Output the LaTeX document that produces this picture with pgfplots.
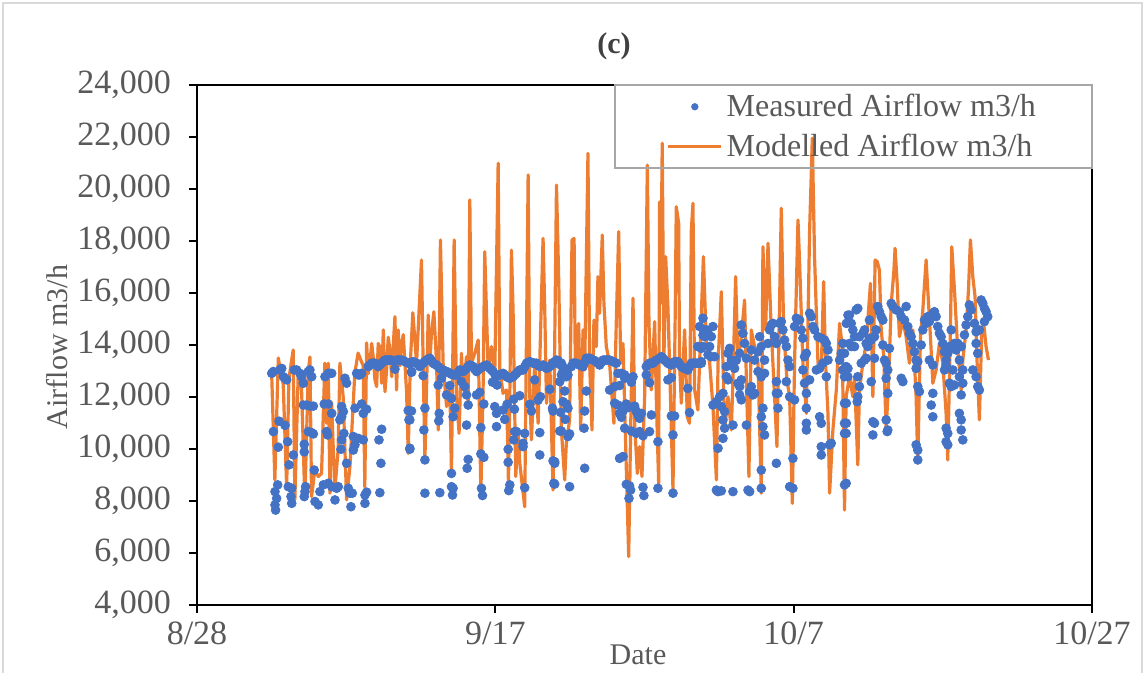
\documentclass[border=0pt]{standalone}
\usepackage{pgfplots}
\usepackage{pgfplotstable}
\pgfplotsset{compat=1.18}
\usepackage{fontspec}
\setmainfont{Liberation Serif}

\definecolor{meas}{HTML}{4472C4}
\definecolor{model}{HTML}{ED7D31}
\definecolor{txt}{HTML}{595959}
\definecolor{titletxt}{HTML}{404040}
\definecolor{outerframe}{HTML}{D9D9D9}
\definecolor{legframe}{HTML}{A6A6A6}

% day = days after 8/28, value in m3/h
\pgfplotstableread{
day value
5.00 13000
5.22 8810
5.45 13500
5.63 12900
5.78 12500
6.01 8540
6.16 12700
6.45 13810
6.56 8040
6.79 13000
7.01 12300
7.23 8040
7.46 13000
7.57 13540
7.68 8170
7.90 9190
8.13 8940
8.35 9060
8.57 13300
8.69 10990
8.80 13300
8.91 8300
9.02 11800
9.24 8420
9.46 9960
9.58 13300
9.80 12000
10.03 8040
10.25 9300
10.58 12920
10.80 13690
11.14 13200
11.25 8540
11.37 14080
11.48 12900
11.59 13300
11.71 14060
11.82 13500
11.93 12660
12.04 12400
12.15 14060
12.27 13900
12.38 12530
12.49 14580
12.60 12200
12.71 13040
12.82 14300
12.93 13810
13.05 12780
13.16 14000
13.27 15090
13.38 12270
13.49 14580
13.60 13200
13.72 14060
13.83 14400
13.94 13300
14.05 12200
14.16 9830
14.30 13300
14.47 15240
14.72 13300
15.05 17270
15.16 13300
15.28 9580
15.50 15150
15.61 13300
15.72 14450
15.88 15280
16.06 13300
16.17 10730
16.32 18040
16.50 13300
16.73 11630
16.95 12530
17.06 9060
17.24 18040
17.40 12010
17.57 10600
17.73 13680
17.84 12270
18.07 13550
18.18 11760
18.29 19580
18.40 13300
18.62 13680
18.85 14190
19.03 8300
19.18 12270
19.29 17590
19.52 13040
19.74 13940
19.96 12780
20.19 20990
20.30 13040
20.52 12140
20.75 12270
20.88 8680
20.97 12010
21.08 17650
21.19 15350
21.37 8940
21.53 10730
21.64 9450
21.97 7780
22.20 20540
22.31 12010
22.42 10350
22.64 13300
22.87 10990
23.20 18100
23.31 15480
23.43 11760
23.65 13420
23.87 8420
24.10 20150
24.25 16500
24.43 10730
24.65 8810
24.76 10220
24.98 11120
25.14 18040
25.28 18100
25.36 13300
25.59 14830
25.72 10730
25.88 14580
25.99 13040
26.21 21370
26.32 13300
26.48 10730
26.61 14960
26.77 13940
26.88 16630
26.99 15220
27.17 18230
27.28 15600
27.44 13940
27.66 13300
27.95 10990
28.11 14900
28.27 18360
28.40 13300
28.56 14060
28.67 11630
28.94 5860
29.07 10730
29.23 15800
29.34 10990
29.52 9060
29.67 10090
29.83 8940
30.01 12010
30.19 20920
30.30 14830
30.46 12270
30.68 14900
30.80 11760
30.95 8680
31.01 19500
31.08 15600
31.19 21760
31.30 13300
31.42 17400
31.57 15480
31.68 13300
31.91 8420
32.06 15220
32.13 19320
32.29 18680
32.35 13300
32.47 11760
32.69 14580
32.87 11240
33.02 10990
33.14 18420
33.25 19450
33.36 12270
33.58 11500
33.95 17400
34.15 13940
34.37 13300
34.59 11630
34.82 8810
34.93 13300
35.15 16050
35.26 13300
35.37 10730
35.60 12010
35.82 10730
35.93 12660
36.11 16630
36.27 13300
36.49 14320
36.71 15730
36.83 12660
37.00 8940
37.16 14580
37.38 13940
37.61 13300
37.83 8300
37.94 17780
38.12 14580
38.28 17910
38.50 14580
38.72 12010
38.88 10090
39.17 19260
39.33 14580
39.55 12660
39.73 12010
39.91 7910
40.06 13300
40.29 18810
40.40 17140
40.62 13300
40.85 11370
41.07 18420
41.25 21950
41.40 17400
41.63 13300
41.85 13040
42.01 16440
42.14 13300
42.30 11370
42.41 8300
42.63 10730
42.86 12270
43.08 14830
43.26 13940
43.41 7650
43.52 12010
43.74 12780
43.97 12010
44.08 12780
44.30 9390
44.41 12270
44.64 13300
44.86 14060
45.15 16370
45.31 12010
45.46 17270
45.60 17210
45.75 16880
45.87 14580
46.04 13550
46.20 10730
46.36 12530
46.54 15600
46.71 16760
46.80 17720
46.94 16370
47.09 14320
47.32 14960
47.54 14320
47.76 13300
47.99 14580
48.21 12010
48.32 9450
48.50 14320
48.66 15350
48.88 17270
48.99 16120
49.17 14320
49.33 12530
49.55 13040
49.77 14060
50.00 13300
50.22 11370
50.33 9580
50.51 14580
50.60 17780
50.78 16120
51.00 13810
51.23 12270
51.34 13420
51.56 14580
51.72 16120
51.85 18040
52.01 16630
52.16 15860
52.30 13300
52.45 11120
52.61 14580
52.74 14830
52.90 13940
53.06 13420
}\modelled

\pgfplotstableread{
day value
5.01 12910
5.12 12980
5.56 13040
5.68 13100
5.79 12780
5.90 12720
6.01 12660
6.52 13040
6.68 13040
6.90 12910
7.02 12780
7.13 12530
7.46 12980
7.57 13040
7.69 12780
8.58 12780
8.80 12910
8.91 12910
9.03 12910
9.92 12720
10.03 12530
10.70 12910
10.81 12850
10.92 12850
11.04 12910
11.48 13170
11.59 13230
11.71 13300
11.82 13300
11.93 13300
12.04 13240
12.15 13170
12.26 13240
12.38 13300
12.49 13360
12.60 13420
12.71 13420
12.82 13420
12.93 13420
13.05 13420
13.16 13400
13.27 13070
13.38 13420
13.49 13420
13.60 13420
13.72 13420
13.83 13400
13.94 13360
14.05 13330
14.16 13300
14.27 13300
14.39 12980
7.13 11690
7.35 11690
7.57 11650
7.80 11650
8.53 11730
8.80 11730
9.03 11370
9.70 11630
9.81 11440
9.70 11240
9.58 11120
10.59 11570
11.04 11730
11.15 11370
11.37 11530
14.16 11480
14.21 11120
5.50 11070
5.90 10910
5.12 10670
7.46 10670
7.69 10630
7.80 10580
8.69 10670
8.76 10540
9.85 10600
9.70 10350
10.48 10480
10.81 10410
11.15 10350
12.20 10350
12.38 10760
5.45 10070
6.08 10280
7.19 10180
7.19 9890
10.48 9960
10.59 10160
9.65 9990
14.27 9990
6.17 9390
6.46 9770
7.86 9190
10.03 9450
12.33 9450
5.41 8620
5.23 8360
5.34 8100
5.23 7850
5.27 7650
6.12 8550
6.35 8490
6.30 8170
6.35 7910
7.28 8550
7.24 8360
7.19 8170
7.91 7980
8.13 7850
8.24 8360
8.47 8620
8.80 8680
9.03 8550
9.36 8490
9.47 8550
9.25 8040
10.14 8490
10.25 8300
10.41 8300
10.32 7780
11.26 8230
11.26 7910
11.37 8340
12.26 8320
14.38 13330
14.49 13360
14.72 13300
14.83 13250
14.94 13170
15.05 13240
15.16 13300
15.27 13360
15.39 13420
15.50 13460
15.61 13490
15.72 13400
15.83 13300
15.94 13260
16.06 13230
16.17 13170
16.28 13100
16.39 13060
16.50 13040
16.62 13000
16.73 12980
16.84 12950
16.95 12910
17.06 12880
17.17 12850
17.28 12850
17.40 12850
17.51 12950
17.62 13040
17.73 13010
17.84 12980
17.95 13040
18.07 13100
18.18 13170
18.29 13230
18.40 13200
18.51 13170
18.62 13070
18.74 12980
18.85 13040
18.96 13100
19.07 13130
19.18 13170
19.29 13200
19.41 13230
19.52 13170
19.63 13100
19.74 13040
19.85 12980
19.96 12880
20.08 12780
20.19 12820
20.30 12850
20.41 12880
20.52 12910
20.63 12850
20.75 12780
20.86 12750
20.97 12720
21.08 12750
21.19 12780
21.31 12850
21.42 12910
21.53 12980
21.64 13040
21.75 13040
21.86 13040
21.97 13170
22.09 13300
22.20 13330
22.31 13360
22.42 13330
22.53 13300
22.64 13300
22.76 13300
22.87 13230
22.98 13170
23.09 13200
23.20 13230
23.31 13170
23.43 13100
23.54 13130
23.65 13170
23.76 13230
23.87 13300
23.98 13360
24.10 13420
24.21 13400
14.38 12950
15.16 12820
16.17 12460
16.39 12720
16.95 12440
16.73 12080
17.06 11950
17.28 11570
17.17 11240
17.73 12590
17.95 12400
18.07 12080
18.18 11690
18.07 10920
18.74 12080
18.96 12180
19.23 11730
19.81 12570
20.12 12460
19.96 11630
20.08 11370
20.52 11500
20.63 11140
20.79 11720
21.24 11920
21.64 12050
21.28 11530
22.31 11720
22.42 11460
22.64 12660
22.87 11880
23.02 12010
23.65 12300
23.83 11570
23.87 11460
14.38 11460
14.27 11120
15.28 11570
16.24 11370
16.21 11080
15.21 10730
20.08 10860
19.03 10820
21.30 10670
21.42 10670
21.24 10350
21.86 10220
21.97 10600
21.86 10090
22.98 10630
24.32 10690
14.27 10030
15.28 9580
17.06 9060
18.18 9600
18.11 9260
19.03 9810
19.23 9680
20.86 9990
20.86 9490
22.98 9770
23.87 9540
23.98 9450
15.28 8300
16.28 8320
17.06 8550
17.13 8230
17.17 8490
19.07 8490
19.14 8210
20.97 8620
20.90 8400
21.97 8510
23.92 8680
24.20 13300
24.32 13250
24.43 13300
24.54 13150
24.65 13040
24.76 12950
24.87 12850
25.10 13170
25.21 13300
25.32 13300
25.43 13300
25.54 13260
25.65 13230
25.77 13200
25.88 13170
25.99 13330
26.10 13490
26.21 13490
26.32 13490
26.43 13460
26.55 13420
26.66 13400
26.77 13360
26.88 13300
26.99 13230
27.10 13330
27.22 13420
27.33 13420
27.44 13420
27.55 13420
27.66 13420
27.77 13390
27.89 13360
28.00 13330
28.11 13300
28.22 12910
28.45 12910
28.67 12720
30.12 13170
30.23 13240
30.34 13300
30.46 13300
30.57 13300
30.68 13360
30.79 13420
31.02 13490
31.13 13550
31.24 13490
31.35 13420
31.46 13360
31.57 13300
31.68 13260
31.80 13230
31.91 13300
32.02 13360
32.13 13360
32.24 13360
32.35 13260
32.47 13170
32.58 13130
32.69 13100
32.80 13070
32.91 13040
33.02 13170
33.14 13300
33.25 13300
33.36 13300
33.47 13300
33.58 13300
33.70 13300
33.81 13300
33.92 15030
33.98 14580
33.92 14380
33.58 13940
33.81 13870
24.43 12850
24.54 12980
24.76 12780
24.32 12590
24.65 12230
24.54 11820
24.76 11730
24.87 11570
24.38 11410
24.69 11140
26.10 12230
25.99 11460
27.66 12270
28.00 12400
28.33 12440
28.00 11760
28.22 11690
28.78 11730
28.56 11460
28.33 11370
28.89 11590
28.45 11220
28.67 12850
29.23 12780
29.12 12570
29.34 11650
29.45 11460
29.56 11310
29.79 11370
29.67 11180
30.46 11310
30.34 12550
30.12 12850
31.57 12660
31.80 12740
31.80 11270
32.02 11270
32.91 12330
33.02 11400
24.43 10690
24.98 10580
24.87 10480
25.95 10800
28.67 10800
29.12 10690
29.45 10600
29.67 10670
29.90 10510
30.34 10670
31.91 10540
30.90 10280
23.98 9510
25.99 9260
28.33 9640
28.56 9710
23.98 8650
24.98 8550
28.78 8640
29.00 8580
29.07 8420
28.96 8100
29.90 8530
29.96 8210
30.90 8490
31.91 8300
33.70 14710
34.15 14580
34.03 14320
34.26 14450
34.48 14320
34.59 14710
34.37 13940
33.92 13940
33.81 13360
34.26 13620
34.48 13550
34.70 13550
35.49 13170
35.60 13680
35.71 13870
35.82 13420
35.93 13300
36.04 13100
36.16 13420
36.38 13680
36.49 14770
36.60 14450
36.71 14060
36.83 13490
37.16 13810
37.38 13420
37.61 13740
37.72 14320
37.83 13940
38.05 13420
38.28 14060
38.39 14580
38.50 14770
38.61 14830
38.72 14320
38.84 14060
39.06 14830
39.17 14900
39.28 14580
39.39 14190
39.51 13940
39.62 13420
39.73 13170
40.06 14710
40.18 15030
40.40 14960
40.51 14580
40.62 14260
40.73 13550
40.85 13680
41.07 15220
41.18 15090
41.29 14710
41.40 14580
41.63 14320
41.85 14260
42.07 14190
42.19 14060
42.30 13810
42.30 13420
41.96 13300
41.74 13100
43.08 13420
43.19 13680
43.30 14060
43.64 15150
43.53 14830
43.30 13040
43.53 12850
43.64 13100
35.49 12780
35.60 12660
35.26 12140
35.04 12010
34.82 11820
34.59 11690
35.37 11440
35.15 11630
36.27 12530
36.38 12400
36.49 12660
36.38 12080
36.49 11890
37.05 12210
37.16 12400
37.27 12080
37.38 12140
37.61 12980
37.83 12780
38.05 12910
37.94 11570
37.83 11240
38.84 12590
38.84 12140
38.95 12140
38.95 11570
39.51 12590
39.73 12010
40.06 11890
40.62 13040
40.73 12530
40.85 12140
40.85 11570
41.07 12660
41.52 13040
41.74 11240
41.85 10990
42.19 12780
43.53 11760
35.26 11120
35.37 10800
35.26 10410
34.93 10030
35.93 10920
36.83 10920
37.94 10860
38.05 10540
37.83 9190
38.84 9450
39.95 9640
40.85 10990
40.85 10730
41.85 10090
41.85 9770
42.52 10220
42.41 10160
43.53 10990
43.41 10600
34.82 8420
34.93 8360
35.15 8390
35.93 8360
36.94 8420
37.05 8360
37.83 8490
39.73 8550
39.95 8490
43.41 8620
43.52 13040
43.63 12780
43.41 13680
43.74 15150
43.86 14830
43.97 14580
44.08 14320
44.19 15350
44.30 15410
43.74 14060
43.86 13940
44.08 13940
44.41 14320
44.64 14450
44.75 14580
44.86 14060
44.97 13940
45.08 14260
45.20 14190
45.42 14320
45.53 14580
45.64 15480
45.75 15280
45.87 15090
45.98 14960
45.08 14960
44.53 13300
44.75 13420
44.86 13490
45.42 13490
46.09 13420
46.20 13300
46.31 13040
45.98 14000
46.42 13870
46.54 15600
46.65 15480
46.87 15350
47.09 15280
47.21 15090
47.43 14960
47.54 15480
47.65 14710
47.76 14450
47.88 14320
47.99 14060
48.10 13740
48.21 13420
48.32 13360
48.55 14000
48.66 14580
48.77 14960
48.88 14830
48.99 15090
49.10 14900
49.33 15220
49.44 15280
49.55 15090
49.66 14710
49.77 14450
49.89 14320
50.00 14060
50.11 13740
50.22 13420
50.33 13680
50.44 13940
50.56 14580
50.78 14060
50.89 13810
51.00 14060
51.11 13420
51.23 13940
51.45 14390
51.56 14770
51.67 15090
51.78 15540
51.90 15350
52.12 14830
52.23 14060
52.34 13680
52.45 14580
52.57 15730
52.68 15600
52.79 15410
52.90 15280
53.01 15090
52.79 14900
52.23 14510
43.41 12780
43.52 13170
44.30 12780
44.41 12400
45.20 12590
46.20 12720
46.31 12140
47.21 12720
47.32 12590
48.21 13100
48.32 12400
48.43 12210
49.10 13420
49.33 13230
49.33 12140
50.11 13040
50.22 13230
50.44 12530
50.56 12400
50.67 13040
50.78 12460
51.11 12780
51.34 13040
51.34 12530
51.23 12080
52.01 13040
52.23 12780
52.34 12400
52.45 12270
43.41 11760
44.30 12010
44.26 11820
43.41 10990
43.52 10600
45.31 11050
45.42 10990
45.31 10540
46.20 11120
46.31 10730
46.27 10670
49.22 11690
49.33 11240
50.22 10800
50.33 10600
50.22 10280
50.33 10160
51.11 11370
51.23 11120
51.23 10730
51.34 10350
48.21 10160
48.32 9960
48.32 9580
43.52 8680
}\measured

\begin{document}
\begin{tikzpicture}[x=1pt,y=1pt]
\path[use as bounding box] (-98.5,-34) rectangle (474,302.5);
\draw[outerframe, line width=1pt] (-97,-40) -- (-97,301) -- (472.5,301) -- (472.5,-40);

\begin{axis}[
  scale only axis,
  width=447.5pt, height=260pt,
  xmin=0, xmax=60, ymin=4000, ymax=24000,
  xtick={0,20,40,60},
  xticklabels={8/28,9/17,10/7,10/27},
  ytick={4000,6000,...,24000},
  scaled y ticks=false,
  /pgf/number format/.cd, fixed, precision=0, 1000 sep={,}, assume math mode=true,
  /pgfplots/.cd,
  tick label style={font=\fontsize{17}{20}\selectfont, text=txt},
  yticklabel style={xshift=-5.5pt},
  xticklabel style={yshift=-1pt},
  axis line style={black, line width=1.2pt},
  tick style={black, line width=1pt},
  tick align=outside,
  major tick length=4pt,
  xtick pos=lower, ytick pos=left,
  reverse legend,
  legend cell align=left,
  legend style={
    at={(1,1)}, anchor=north east, xshift=0.5pt, yshift=0.5pt,
    draw=legframe, line width=1pt, fill=none,
    font=\fontsize{16}{19}\selectfont, text=txt,
    inner xsep=26pt, inner ysep=1pt, row sep=0pt,
    nodes={inner ysep=3.5pt},
  },
]
\addplot[model, line width=1.6pt, line join=round,
  legend image code/.code={\draw[model, line width=1.4pt] (0pt,0pt) -- (26.5pt,0pt);}]
  table[x=day, y=value] {\modelled};
\addlegendentry{Modelled Airflow m3/h}
\addplot[meas, only marks, mark=*, mark size=2.2pt, mark options={draw=none, fill=meas},
  legend image code/.code={\fill[meas] (13.25pt,0pt) circle (1.3pt);}]
  table[x=day, y=value] {\measured};
\addlegendentry{Measured Airflow m3/h}
\end{axis}

\node[font=\bfseries\fontsize{15}{18}\selectfont, text=titletxt] at (208.5,279.5) {(c)};
\node[rotate=90, font=\fontsize{15}{18}\selectfont, text=txt] at (-70,129) {Airflow m3/h};
\node[font=\fontsize{15}{18}\selectfont, text=txt] at (220.5,-25) {Date};
\end{tikzpicture}
\end{document}
